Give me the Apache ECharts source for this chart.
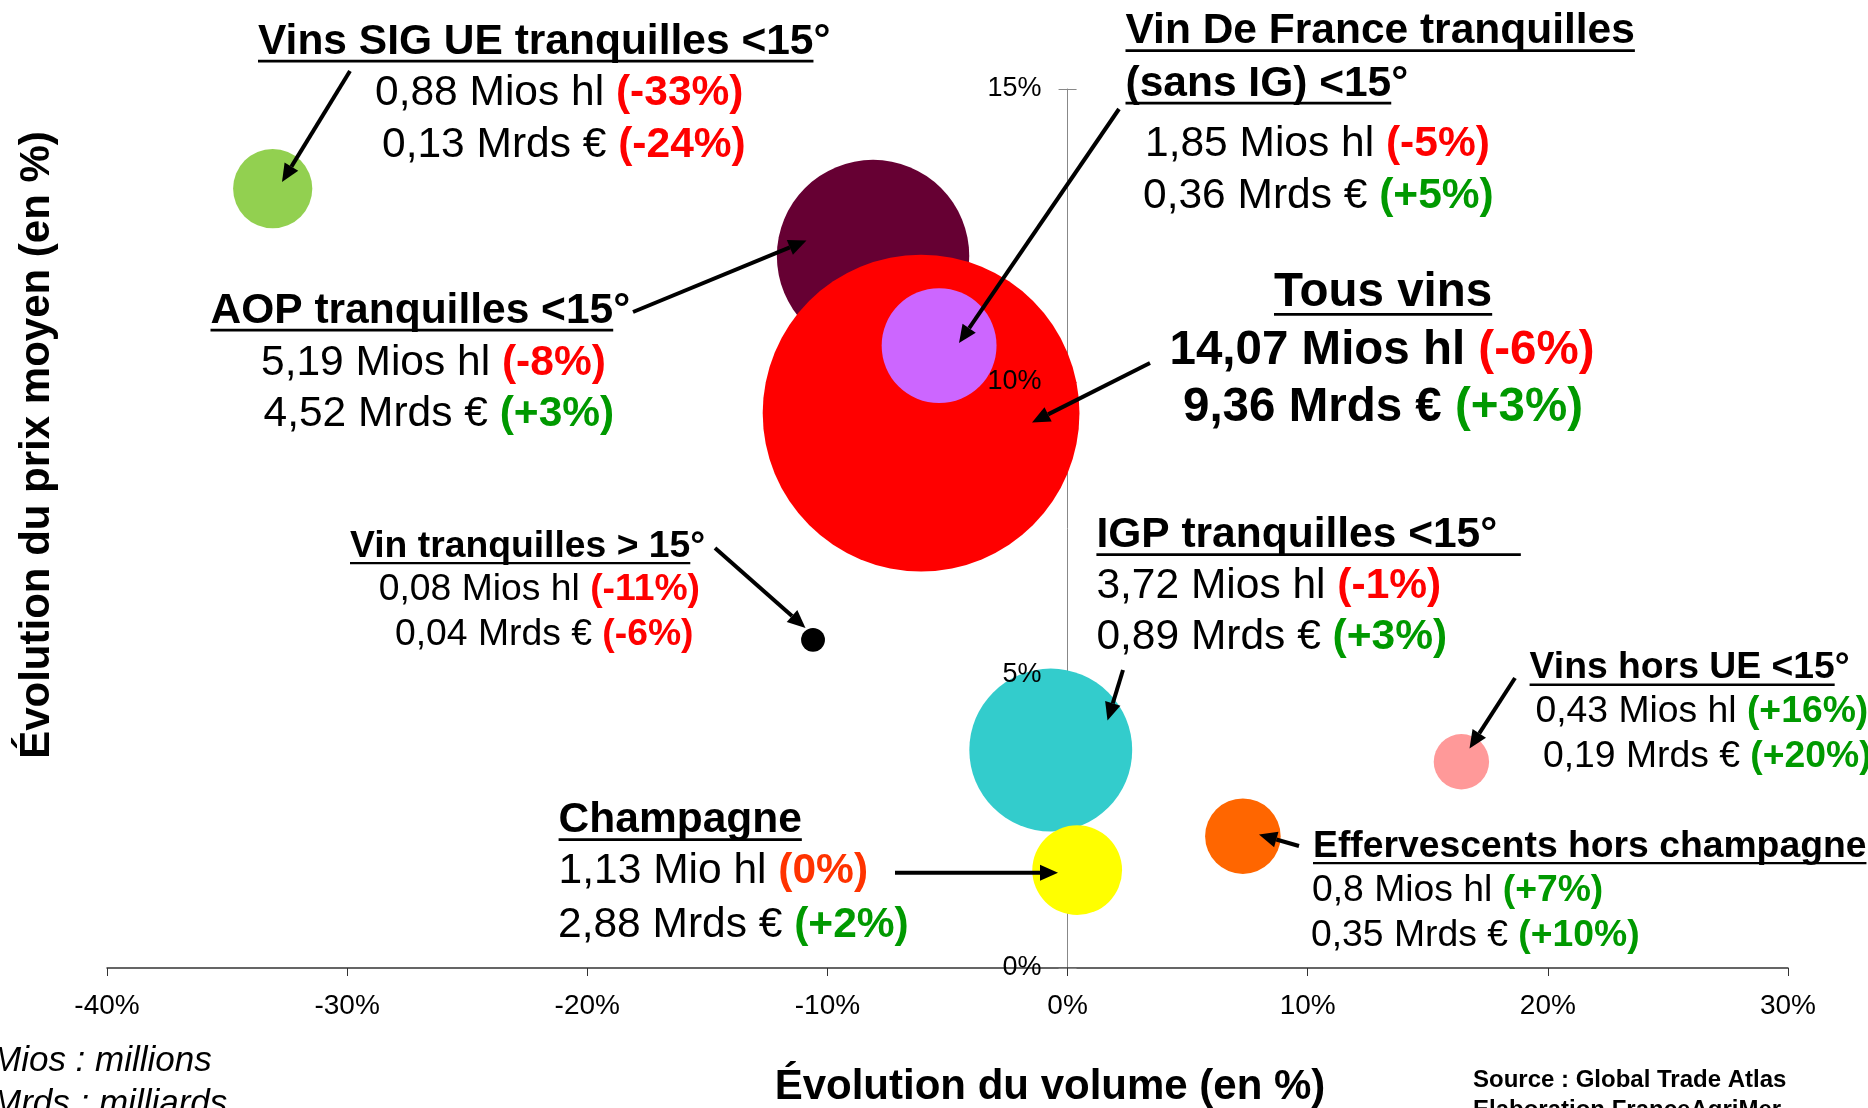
<!DOCTYPE html>
<html>
<head>
<meta charset="utf-8">
<script src="https://cdn.jsdelivr.net/npm/echarts@6/dist/echarts.min.js"></script>
<style>
  html, body { margin: 0; padding: 0; background: #fff; }
  #chart { width: 1868px; height: 1108px; }
</style>
</head>
<body>
<div id="chart"></div>
<script>
// Exportations de vins : évolution du volume (x) et du prix moyen (y), taille = volume
const names = ['Vins SIG UE tranquilles <15°', 'AOP tranquilles <15°', 'Tous vins',
  'Vin De France tranquilles (sans IG) <15°', 'Vin tranquilles > 15°', 'IGP tranquilles <15°',
  'Champagne', 'Effervescents hors champagne', 'Vins hors UE <15°']
const volChange = [-33.1, -8.1, -6.1, -5.35, -10.6, -0.7, 0.4, 7.3, 16.4]
const priceChange = [13.3, 12.15, 9.47, 10.62, 5.6, 3.72, 1.67, 2.25, 3.52]
const volumes = [0.88, 5.19, 14.07, 1.85, 0.08, 3.72, 1.13, 0.8, 0.43] // Mios hl
const colors = ['#92D050', '#660033', '#FF0000', '#CC66FF', '#000000', '#33CCCC', '#FFFF00', '#FF6600', '#FF9999']
const xTicks = [-40, -30, -20, -10, 0, 10, 20, 30]
const yTicks = [0, 5, 10, 15]

const FONT = '"Liberation Sans", Arial, sans-serif'
const RED = '#FF0000'
const GREEN = '#009900'
const ORANGE = '#FF3300'
const DY = 3 // petit recalage vertical des textes

// textes des étiquettes : [x, y, taille, texte, pourcentage, couleur, gras, souligné]
const lignes = [
  [258, 39, 42.5, 'Vins SIG UE tranquilles <15°', '', '', 1, 'Vins SIG UE tranquilles <15'],
  [375, 90.5, 42.5, '0,88 Mios hl ', '(-33%)', RED],
  [382, 142, 42.5, '0,13 Mrds € ', '(-24%)', RED],

  [210.5, 308, 42.5, 'AOP tranquilles <15°', '', '', 1, 'AOP tranquilles <15'],
  [261, 360, 42.5, '5,19 Mios hl ', '(-8%)', RED],
  [263.5, 411.5, 42.5, '4,52 Mrds € ', '(+3%)', GREEN],

  [1125.5, 28.5, 42.5, 'Vin De France tranquilles', '', '', 1, 'Vin De France tranquilles'],
  [1125.5, 81, 42.5, '(sans IG) <15°', '', '', 1, '(sans IG) <15'],
  [1145, 141.7, 42.5, '1,85 Mios hl ', '(-5%)', RED],
  [1143, 193.3, 42.5, '0,36 Mrds € ', '(+5%)', GREEN],

  [1274, 290, 47.5, 'Tous vins', '', '', 1, 'Tous vins'],
  [1169.5, 347.5, 47.5, '14,07 Mios hl ', '(-6%)', RED, 1],
  [1183, 405, 47.5, '9,36 Mrds € ', '(+3%)', GREEN, 1],

  [350, 543.3, 37.3, 'Vin tranquilles > 15°', '', '', 1, 'Vin tranquilles > 15'],
  [378.7, 587, 37.3, '0,08 Mios hl ', '(-11%)', RED],
  [395, 631.7, 37.3, '0,04 Mrds € ', '(-6%)', RED],

  [1096.4, 532.5, 42.5, 'IGP tranquilles <15°', '', '', 1, 'IGP tranquilles <15°  '],
  [1096.4, 583.3, 42.5, '3,72 Mios hl ', '(-1%)', RED],
  [1096.4, 634, 42.5, '0,89 Mrds € ', '(+3%)', GREEN],

  [1529.6, 665, 37.3, 'Vins hors UE <15°', '', '', 1, 'Vins hors UE <15'],
  [1535.5, 709, 37.3, '0,43 Mios hl ', '(+16%)', GREEN],
  [1543, 753.3, 37.3, '0,19 Mrds € ', '(+20%)', GREEN],

  [558.6, 817.5, 42.5, 'Champagne', '', '', 1, 'Champagne'],
  [558.6, 868.3, 42.5, '1,13 Mio hl ', '(0%)', ORANGE],
  [558, 922.5, 42.5, '2,88 Mrds € ', '(+2%)', GREEN],

  [1313, 843.3, 37.3, 'Effervescents hors champagne', '', '', 1, 'Effervescents hors champagne'],
  [1312, 887.5, 37.3, '0,8 Mios hl ', '(+7%)', GREEN],
  [1311, 933, 37.3, '0,35 Mrds € ', '(+10%)', GREEN]
]

// flèches : [x départ, y départ, x pointe, y pointe]
const fleches = [
  [350, 71, 282, 182],
  [633, 312, 806.5, 240.6],
  [1119, 109, 959, 343],
  [1150, 363, 1032, 422.5],
  [715, 548, 805.5, 628],
  [1123, 670, 1107.5, 720.5],
  [1515, 678, 1469.5, 748.5],
  [895, 872.7, 1058, 872.7],
  [1299, 846, 1259, 834.5]
]

const ctx = document.createElement('canvas').getContext('2d')
function largeur (txt, size, bold) {
  ctx.font = (bold ? 'bold ' : '') + size + 'px ' + FONT
  return ctx.measureText(txt).width
}

const graphic = []

lignes.forEach(function (l) {
  const [x, y0, size, txt, pct, col, bold, ul] = l
  const y = y0 + DY
  let text = '{a|' + txt + '}'
  if (pct) text += '{b|' + pct + '}'
  graphic.push({
    type: 'text',
    x: x,
    y: y,
    z: 100,
    silent: true,
    style: {
      text: text,
      align: 'left',
      verticalAlign: 'middle',
      rich: {
        a: { fontSize: size, fontFamily: FONT, fontWeight: bold ? 'bold' : 'normal', fill: '#000' },
        b: { fontSize: size, fontFamily: FONT, fontWeight: 'bold', fill: col }
      }
    }
  })
  if (ul) {
    const w = largeur(ul, size, true)
    const uy = y + size * 0.45
    graphic.push({
      type: 'line',
      z: 100,
      silent: true,
      shape: { x1: x, y1: uy, x2: x + w, y2: uy },
      style: { stroke: '#000', lineWidth: size / 16 }
    })
  }
})

fleches.forEach(function (f) {
  const [x1, y1, x2, y2] = f
  const a = Math.atan2(y2 - y1, x2 - x1)
  const len = 18
  const half = 8
  const bx = x2 - len * Math.cos(a)
  const by = y2 - len * Math.sin(a)
  graphic.push({
    type: 'line',
    z: 100,
    silent: true,
    shape: { x1: x1, y1: y1, x2: bx, y2: by },
    style: { stroke: '#000', lineWidth: 4 }
  })
  graphic.push({
    type: 'polygon',
    z: 100,
    silent: true,
    shape: {
      points: [
        [x2, y2],
        [bx + half * Math.sin(a), by - half * Math.cos(a)],
        [bx - half * Math.sin(a), by + half * Math.cos(a)]
      ]
    },
    style: { fill: '#000' }
  })
})

// titres des axes, notes et source
graphic.push(
  {
    type: 'text', x: 37, y: 445, rotation: Math.PI / 2, z: 100, silent: true,
    style: { text: 'Évolution du prix moyen (en %)', fontSize: 42, fontWeight: 'bold', fontFamily: FONT, fill: '#000', align: 'center', verticalAlign: 'middle' }
  },
  {
    type: 'text', x: 1050, y: 1087, z: 100, silent: true,
    style: { text: 'Évolution du volume (en %)', fontSize: 42, fontWeight: 'bold', fontFamily: FONT, fill: '#000', align: 'center', verticalAlign: 'middle' }
  },
  {
    type: 'text', x: -8, y: 1061, z: 100, silent: true,
    style: { text: 'Mios : millions', fontSize: 35, fontStyle: 'italic', fontFamily: FONT, fill: '#000', align: 'left', verticalAlign: 'middle' }
  },
  {
    type: 'text', x: -8, y: 1104, z: 100, silent: true,
    style: { text: 'Mrds : milliards', fontSize: 35, fontStyle: 'italic', fontFamily: FONT, fill: '#000', align: 'left', verticalAlign: 'middle' }
  },
  {
    type: 'text', x: 1473, y: 1080, z: 100, silent: true,
    style: { text: 'Source : Global Trade Atlas', fontSize: 24, fontWeight: 'bold', fontFamily: FONT, fill: '#000', align: 'left', verticalAlign: 'middle' }
  },
  {
    type: 'text', x: 1473, y: 1110, z: 100, silent: true,
    style: { text: 'Elaboration FranceAgriMer', fontSize: 24, fontWeight: 'bold', fontFamily: FONT, fill: '#000', align: 'left', verticalAlign: 'middle' }
  }
)

const GRID = { left: 107, right: 80, top: 89, bottom: 140 }
const xMin = xTicks[0]
const xMax = xTicks[xTicks.length - 1]
// décalage des axes y secondaires jusqu'à x = 0
const zeroOffset = -(0 - xMin) / (xMax - xMin) * (1868 - GRID.left - GRID.right)

const yCommon = {
  type: 'value',
  position: 'left',
  min: yTicks[0],
  max: yTicks[yTicks.length - 1],
  interval: yTicks[1] - yTicks[0],
  splitLine: { show: false }
}

const option = {
  animation: false,
  backgroundColor: '#fff',
  grid: Object.assign({ containLabel: false }, GRID),
  xAxis: {
    type: 'value',
    min: xMin,
    max: xMax,
    interval: xTicks[1] - xTicks[0],
    axisLine: { onZero: true, lineStyle: { color: '#333', width: 1.5 } },
    axisTick: { show: true, length: 8, lineStyle: { color: '#333' } },
    splitLine: { show: false },
    axisLabel: { formatter: '{value}%', fontSize: 28, color: '#000', fontFamily: FONT, margin: 24 }
  },
  yAxis: [
    // axe + graduations vers l'extérieur (sous les bulles)
    Object.assign({}, yCommon, {
      z: 0,
      axisLine: { show: true, onZero: true, lineStyle: { color: '#888', width: 1 } },
      axisTick: { show: true, length: 9, lineStyle: { color: '#888' } },
      axisLabel: { show: false }
    }),
    // graduations vers l'intérieur
    Object.assign({}, yCommon, {
      z: 0,
      offset: zeroOffset,
      axisLine: { show: false, onZero: false },
      axisTick: { show: true, inside: true, length: 9, lineStyle: { color: '#888' } },
      axisLabel: { show: false }
    }),
    // libellés au-dessus des bulles
    Object.assign({}, yCommon, {
      z: 10,
      offset: zeroOffset,
      axisLine: { show: false, onZero: false },
      axisTick: { show: false },
      axisLabel: { formatter: '{value}%', fontSize: 27, color: '#000', fontFamily: FONT, margin: 26, padding: [6, 0, 0, 0] }
    })
  ],
  series: [
    {
      type: 'scatter',
      silent: true,
      symbol: 'circle',
      symbolSize: function (v) { return 84.45 * Math.sqrt(v[2]) },
      itemStyle: {
        opacity: 1,
        color: function (p) { return colors[p.dataIndex] }
      },
      data: names.map(function (n, i) {
        return { name: n, value: [volChange[i], priceChange[i], volumes[i]] }
      })
    }
  ],
  graphic: graphic
}

const chart = echarts.init(document.getElementById('chart'))
chart.setOption(option)
</script>
</body>
</html>
